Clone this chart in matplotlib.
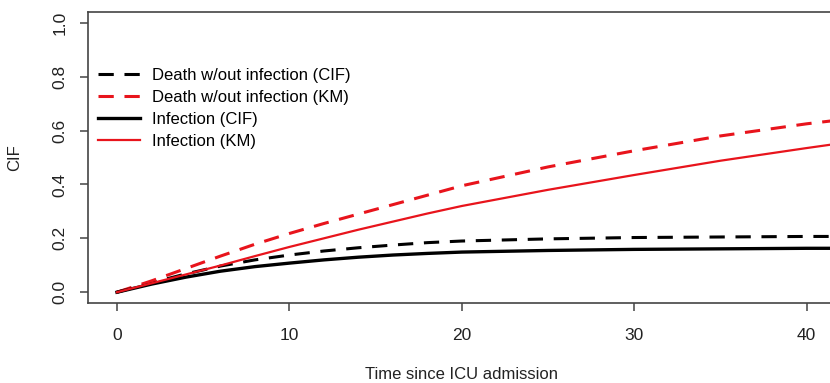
import matplotlib
matplotlib.use("Agg")
import matplotlib.pyplot as plt

plt.rcParams['font.family'] = ['Liberation Sans', 'DejaVu Sans']

# time since ICU admission (days)
t = [0, 2, 4, 6, 8, 10, 12, 14, 16, 18, 20, 25, 30, 35, 40, 42]

death_cif = [0, 0.035, 0.068, 0.097, 0.12, 0.138, 0.153, 0.165, 0.175, 0.184, 0.19, 0.198, 0.203, 0.205, 0.207, 0.207]
death_km = [0, 0.042, 0.088, 0.134, 0.178, 0.218, 0.255, 0.29, 0.325, 0.36, 0.395, 0.465, 0.525, 0.58, 0.625, 0.64]
inf_cif = [0, 0.03, 0.056, 0.078, 0.095, 0.108, 0.12, 0.13, 0.138, 0.144, 0.149, 0.155, 0.159, 0.161, 0.163, 0.163]
inf_km = [0, 0.033, 0.066, 0.099, 0.134, 0.168, 0.2, 0.232, 0.262, 0.292, 0.32, 0.38, 0.435, 0.488, 0.535, 0.553]

labels = ["Death w/out infection (CIF)", "Death w/out infection (KM)",
          "Infection (CIF)", "Infection (KM)"]

fig = plt.figure(figsize=(8.3, 3.83), dpi=100)
# axes box runs past the right edge of the picture (cropped R plot)
ax = fig.add_axes([88/830, 1 - 303/383, 782/830, 291/383])

dash = (5, 3.5)
ax.plot(t, death_cif, color='black', lw=2.2, dashes=dash, label=labels[0])
ax.plot(t, death_km, color='#e8141c', lw=2.2, dashes=dash, label=labels[1])
ax.plot(t, inf_cif, color='black', lw=2.4, label=labels[2])
ax.plot(t, inf_km, color='#e8141c', lw=1.6, label=labels[3])

ax.set_xlim(-1.68, 43.68)
ax.set_ylim(-0.04, 1.04)
ax.set_xticks([0, 10, 20, 30, 40])
ax.set_yticks([0, 0.2, 0.4, 0.6, 0.8, 1.0])
ax.set_yticklabels(["0.0", "0.2", "0.4", "0.6", "0.8", "1.0"], rotation=90, va='center')

for s in ax.spines.values():
    s.set_color('#444444')
    s.set_linewidth(1.2)
ax.tick_params(axis='both', length=6, width=1.1, color='#444444', labelsize=12.5, labelcolor='#222222')
ax.tick_params(axis='x', pad=12)
ax.tick_params(axis='y', pad=9)

ax.set_xlabel("Time since ICU admission", fontsize=12, color='#222222')
ax.xaxis.set_label_coords((461 - 88) / 782, -(367 - 303) / 291)
ax.set_ylabel("CIF", fontsize=12, color='#222222')
ax.yaxis.set_label_coords(-(88 - 22) / 782, 0.5)

ax.legend(frameon=False, loc='upper left',
          bbox_to_anchor=((98 - 88) / 782, (303 - 68) / 291),
          fontsize=12, handlelength=2.5, handletextpad=0.75, labelspacing=0.42,
          borderaxespad=0, borderpad=0)

fig.savefig("out.png", dpi=100)
